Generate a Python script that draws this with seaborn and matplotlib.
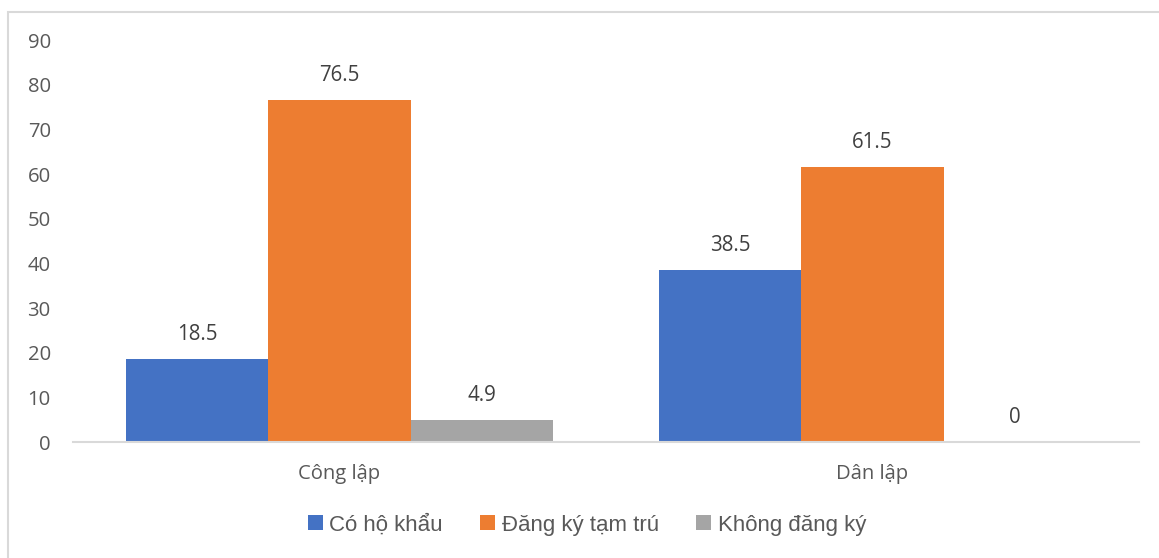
import pandas as pd
import matplotlib.pyplot as plt
import seaborn as sns
from matplotlib.patches import Rectangle

# du lieu
loai_truong = ['Công lập', 'Dân lập']
nhom = ['Có hộ khẩu', 'Đăng ký tạm trú', 'Không đăng ký']
co_ho_khau = [18.5, 38.5]
dang_ky_tam_tru = [76.5, 61.5]
khong_dang_ky = [4.9, 0]
mau = ['#4472C4', '#ED7D31', '#A5A5A5']

df = pd.DataFrame({
    'truong': loai_truong * 3,
    'nhom': [nhom[0]] * 2 + [nhom[1]] * 2 + [nhom[2]] * 2,
    'ty_le': co_ho_khau + dang_ky_tam_tru + khong_dang_ky,
})

sns.set_style('white')
plt.rcParams['font.family'] = ['Open Sans', 'DejaVu Sans']

fig = plt.figure(figsize=(11.59, 5.58), dpi=100)
ax = fig.add_axes([73 / 1159, 116 / 558, 1066 / 1159, 402 / 558])

sns.barplot(data=df, x='truong', y='ty_le', hue='nhom', hue_order=nhom,
            order=loai_truong, palette=mau, width=0.8, saturation=1,
            edgecolor='none', ax=ax)

for c in ax.containers:
    ax.bar_label(c, fmt='%g', padding=10, fontsize=14.8, color='#404040')

ax.set_ylim(0, 90)
ax.set_yticks(range(0, 91, 10))
ax.set_xlim(-0.5, 1.5)
ax.set_xlabel('')
ax.set_ylabel('')
ax.tick_params(axis='y', length=0, pad=16, labelsize=14.6, labelcolor='#595959')
ax.tick_params(axis='x', length=0, pad=16, labelsize=14.6, labelcolor='#595959')
for s in ['top', 'right', 'left']:
    ax.spines[s].set_visible(False)
ax.spines['bottom'].set_color('#D9D9D9')
ax.spines['bottom'].set_linewidth(1.5)

ax.legend(loc='center', bbox_to_anchor=(587 / 1159, 33 / 558),
          bbox_transform=fig.transFigure, ncol=3, frameon=False,
          handlelength=0.65, handleheight=0.65, handletextpad=0.3,
          columnspacing=1.7,
          prop={'family': ['Liberation Sans Narrow', 'Liberation Sans'], 'size': 16})
for t in ax.get_legend().get_texts():
    t.set_color('#595959')

# khung vien
fig.patches.append(Rectangle((8 / 1159, -0.1), 1.2, (546 / 558) + 0.1,
                             transform=fig.transFigure, fill=False,
                             edgecolor='#D9D9D9', linewidth=1.5))

fig.savefig('out.png', dpi=100)
